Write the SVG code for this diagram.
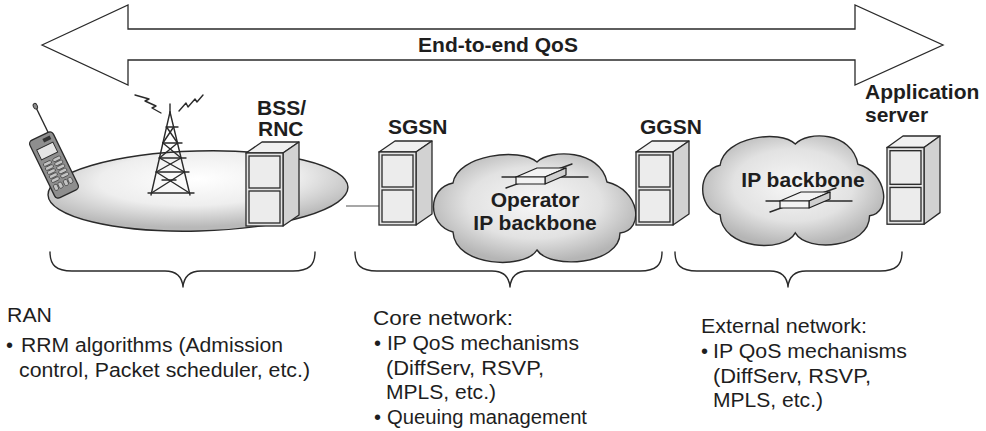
<svg xmlns="http://www.w3.org/2000/svg" xmlns:xlink="http://www.w3.org/1999/xlink" width="986" height="431" viewBox="0 0 986 431">
  <style>
    .ln { fill: none; stroke: #2a2a2a; stroke-width: 1.4; stroke-linejoin: round; stroke-linecap: round; }
    .bold { font-family: "Liberation Sans", Arial, sans-serif; font-weight: bold; font-size: 21px; fill: #1e1e1e; }
    .reg { font-family: "Liberation Sans", Arial, sans-serif; font-size: 20px; fill: #1e1e1e; }
    .srv-front { fill: #e4e4e4; stroke: #2a2a2a; stroke-width: 1.3; }
    .srv-top { fill: #f0f0f0; stroke: #2a2a2a; stroke-width: 1.3; stroke-linejoin: round; }
    .srv-side { fill: #d2d2d2; stroke: #2a2a2a; stroke-width: 1.3; stroke-linejoin: round; }
    .srv-drawer { fill: #ececec; stroke: #2a2a2a; stroke-width: 1.3; }
    .rt-face { fill: #f2f2f2; stroke: #1e1e1e; stroke-width: 1.2; stroke-linejoin: round; }
    .rt-side { fill: #cfcfcf; stroke: #1e1e1e; stroke-width: 1.2; stroke-linejoin: round; }
    .key { fill: #c4c4c4; stroke: #2a2a2a; stroke-width: 0.6; }
  </style>
  <defs>
    <radialGradient id="cellGrad" cx="50%" cy="35%" r="60%">
      <stop offset="0" stop-color="#ffffff"/>
      <stop offset="0.55" stop-color="#eeeeee"/>
      <stop offset="1" stop-color="#b8b8b8"/>
    </radialGradient>
    <radialGradient id="cloudGrad" cx="50%" cy="45%" r="55%">
      <stop offset="0" stop-color="#f7f7f7"/>
      <stop offset="0.6" stop-color="#e2e2e2"/>
      <stop offset="1" stop-color="#b5b5b5"/>
    </radialGradient>
    <!-- rack server: front panel with two drawers, top and right side in perspective -->
    <g id="server">
      <polygon class="srv-top" points="0,11 37,11 53,0 16,0"/>
      <polygon class="srv-side" points="37,11 53,0 53,73 37,84"/>
      <rect class="srv-front" x="0" y="11" width="37" height="73"/>
      <rect class="srv-drawer" x="3" y="14" width="31" height="32"/>
      <rect class="srv-drawer" x="3" y="49" width="31" height="32"/>
    </g>
    <!-- cloud outline, local box about 200 x 107 -->
    <path id="cloud" fill="url(#cloudGrad)" stroke="#2a2a2a" stroke-width="1.4" vector-effect="non-scaling-stroke"
          d="M18,28 C22,0 85,-8 102,7 C115,-6 165,-6 172,27 C205,35 210,75 185,78 C185,110 115,115 102,95 C90,115 20,112 18,77 C-8,70 -8,33 18,28 Z"/>
    <!-- flat router box with two crossing links -->
    <g id="router">
      <line class="ln" x1="-14" y1="0" x2="72" y2="0" stroke-width="1.3"/>
      <line class="ln" x1="-10" y1="11" x2="56" y2="-13" stroke-width="1.3"/>
      <polygon class="rt-face" points="0,0 29,0 50,-9 21,-9"/>
      <polygon class="rt-side" points="29,0 50,-9 50,-2 29,7"/>
      <rect class="rt-face" x="0" y="0" width="29" height="7"/>
    </g>
  </defs>

  <!-- end-to-end double arrow -->
  <g id="e2e-arrow">
    <polygon points="42,45 128,5 128,29 855,29 855,5 943,45 855,85 855,60 128,60 128,85"
             fill="#ffffff" stroke="#2a2a2a" stroke-width="1.3" stroke-linejoin="miter"/>
    <text class="bold" x="498" y="52" text-anchor="middle">End-to-end QoS</text>
  </g>

  <!-- radio cell -->
  <g id="ran-cell">
    <ellipse cx="198" cy="191" rx="150" ry="40" fill="url(#cellGrad)" stroke="#2a2a2a" stroke-width="1.4" transform="rotate(-1.5 198 191)"/>
  </g>

  <!-- links -->
  <g id="connectors">
    <line x1="346" y1="206" x2="379" y2="206" stroke="#8a8a8a" stroke-width="1.6"/>
  </g>

  <!-- mobile handset -->
  <g id="mobile" transform="translate(54 165) rotate(-26)">
    <line x1="9" y1="-32" x2="9" y2="-59" stroke="#2a2a2a" stroke-width="1.4"/>
    <ellipse cx="9" cy="-61" rx="2" ry="3" fill="#8c8c8c" stroke="#2a2a2a" stroke-width="0.9"/>
    <rect x="-13" y="-32" width="26" height="64" rx="4" fill="#8e8e8e" stroke="#2a2a2a" stroke-width="1.3"/>
    <rect x="1" y="-28.5" width="8" height="4" fill="#333"/>
    <rect x="-9" y="-21" width="18" height="11" fill="#e4e4e4" stroke="#2a2a2a" stroke-width="0.9"/>
    <rect class="key" x="-9.5" y="-6" width="8.5" height="3.4" rx="1.7"/>
    <rect class="key" x="1" y="-6" width="8.5" height="3.4" rx="1.7"/>
    <rect class="key" x="-9.5" y="-1.5" width="8.5" height="3.4" rx="1.7"/>
    <rect class="key" x="1" y="-1.5" width="8.5" height="3.4" rx="1.7"/>
    <rect class="key" x="-9.5" y="3" width="8.5" height="3.4" rx="1.7"/>
    <rect class="key" x="1" y="3" width="8.5" height="3.4" rx="1.7"/>
    <rect class="key" x="-9.5" y="7.5" width="8.5" height="3.4" rx="1.7"/>
    <rect class="key" x="1" y="7.5" width="8.5" height="3.4" rx="1.7"/>
    <rect class="key" x="-9.5" y="12" width="8.5" height="3.4" rx="1.7"/>
    <rect class="key" x="1" y="12" width="8.5" height="3.4" rx="1.7"/>
    <rect class="key" x="-10" y="18" width="4" height="6" rx="1.5"/>
    <rect class="key" x="-5" y="18" width="4" height="6" rx="1.5"/>
    <rect class="key" x="1" y="18" width="4" height="6" rx="1.5"/>
    <rect class="key" x="6" y="18" width="4" height="6" rx="1.5"/>
  </g>

  <!-- base station mast -->
  <g id="base-station">
    <g class="ln" stroke-width="1.5">
      <line x1="170" y1="104" x2="170" y2="113"/>
      <line x1="170" y1="112" x2="151" y2="195"/>
      <line x1="170" y1="112" x2="190" y2="195"/>
      <line x1="166" y1="127" x2="178" y2="127"/>
      <line x1="163" y1="143" x2="182" y2="143"/>
      <line x1="159" y1="158" x2="186" y2="158"/>
      <line x1="156" y1="172" x2="189" y2="172"/>
      <line x1="162" y1="180" x2="176" y2="180"/>
      <line x1="148" y1="193" x2="194" y2="193"/>
      <line x1="166.6" y1="127" x2="177.5" y2="143"/>
      <line x1="173.6" y1="127" x2="162.9" y2="143"/>
      <line x1="162.9" y1="143" x2="181.1" y2="158"/>
      <line x1="177.5" y1="143" x2="159.5" y2="158"/>
      <line x1="159.5" y1="158" x2="184.5" y2="172"/>
      <line x1="181.1" y1="158" x2="156.3" y2="172"/>
      <line x1="156.3" y1="172" x2="189.5" y2="193"/>
      <line x1="184.5" y1="172" x2="151.5" y2="193"/>
    </g>
    <polyline class="ln" stroke-width="1.1" points="135,95 149,99 145,101 156,106 152,108 161,113"/>
    <polyline class="ln" stroke-width="1.1" points="179,111 186,103 188,107 195,99 197,102 203,95"/>
  </g>

  <!-- BSS/RNC -->
  <g id="bss-rnc">
    <use xlink:href="#server" transform="translate(246 142)"/>
    <text class="bold" x="257" y="115">BSS/</text>
    <text class="bold" x="258" y="136">RNC</text>
  </g>

  <!-- SGSN -->
  <g id="sgsn">
    <use xlink:href="#server" transform="translate(379 141)"/>
    <text class="bold" x="388" y="134">SGSN</text>
  </g>

  <!-- operator IP backbone -->
  <g id="operator-backbone">
    <use xlink:href="#cloud" transform="translate(435 155)"/>
    <use xlink:href="#router" transform="translate(516 177)"/>
    <text class="bold" x="535" y="207" text-anchor="middle">Operator</text>
    <text class="bold" x="535" y="230" text-anchor="middle">IP backbone</text>
  </g>

  <!-- GGSN -->
  <g id="ggsn">
    <use xlink:href="#server" transform="translate(636 141)"/>
    <text class="bold" x="640" y="134">GGSN</text>
  </g>

  <!-- external IP backbone -->
  <g id="external-backbone">
    <use xlink:href="#cloud" transform="translate(704 137) scale(0.895 1.01)"/>
    <text class="bold" x="803" y="187" text-anchor="middle">IP backbone</text>
    <use xlink:href="#router" transform="translate(780 201)"/>
  </g>

  <!-- application server -->
  <g id="app-server">
    <use xlink:href="#server" transform="translate(887 136) scale(1 1.05)"/>
    <text class="bold" x="865" y="99">Application</text>
    <text class="bold" x="865" y="122">server</text>
  </g>

  <!-- domain braces -->
  <g id="braces" class="ln" stroke-width="1.3">
    <path d="M50,252 C50,265 56,271 72,271 L165,271 C176,271 182,276 183,287 C184,276 190,271 201,271 L293,271 C309,271 315,265 315,252"/>
    <path d="M355,252 C355,265 361,271 377,271 L492,271 C503,271 509,276 510,287 C511,276 517,271 528,271 L640,271 C656,271 662,265 662,252"/>
    <path d="M675,252 C675,265 681,271 697,271 L770,271 C781,271 787,276 788,287 C789,276 795,271 806,271 L880,271 C896,271 902,265 902,252"/>
  </g>

  <!-- RAN notes -->
  <g id="ran-notes">
    <text class="reg" x="7" y="322" textLength="45" lengthAdjust="spacingAndGlyphs">RAN</text>
    <text class="reg" x="6" y="352">•</text>
    <text class="reg" x="21" y="352" textLength="262" lengthAdjust="spacingAndGlyphs">RRM algorithms (Admission</text>
    <text class="reg" x="19" y="377" textLength="291" lengthAdjust="spacingAndGlyphs">control, Packet scheduler, etc.)</text>
  </g>

  <!-- core network notes -->
  <g id="core-notes">
    <text class="reg" x="373" y="325" textLength="140" lengthAdjust="spacingAndGlyphs">Core network:</text>
    <text class="reg" x="374" y="350">•</text>
    <text class="reg" x="387" y="350" textLength="192" lengthAdjust="spacingAndGlyphs">IP QoS mechanisms</text>
    <text class="reg" x="386" y="375" textLength="158" lengthAdjust="spacingAndGlyphs">(DiffServ, RSVP,</text>
    <text class="reg" x="386" y="399" textLength="110" lengthAdjust="spacingAndGlyphs">MPLS, etc.)</text>
    <text class="reg" x="374" y="424">•</text>
    <text class="reg" x="387" y="424" textLength="200" lengthAdjust="spacingAndGlyphs">Queuing management</text>
  </g>

  <!-- external network notes -->
  <g id="external-notes">
    <text class="reg" x="701" y="333" textLength="166" lengthAdjust="spacingAndGlyphs">External network:</text>
    <text class="reg" x="701" y="358">•</text>
    <text class="reg" x="713" y="358" textLength="194" lengthAdjust="spacingAndGlyphs">IP QoS mechanisms</text>
    <text class="reg" x="713" y="383" textLength="158" lengthAdjust="spacingAndGlyphs">(DiffServ, RSVP,</text>
    <text class="reg" x="713" y="407" textLength="110" lengthAdjust="spacingAndGlyphs">MPLS, etc.)</text>
  </g>
</svg>
